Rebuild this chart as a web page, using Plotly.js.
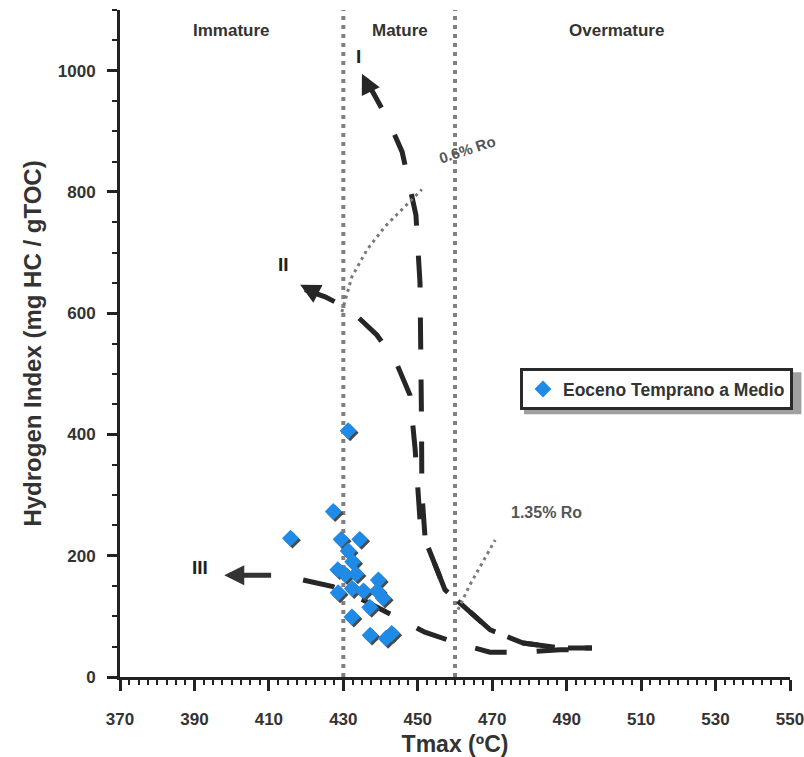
<!DOCTYPE html>
<html>
<head>
<meta charset="utf-8">
<script src="https://cdn.plot.ly/plotly-3.0.1.min.js"></script>
<style>
  html, body { margin: 0; padding: 0; background: #fff; }
  #chart { width: 804px; height: 757px; }
  .scatterlayer g.trace:last-of-type g.points { filter: drop-shadow(2px 2px 0px #4a4a4a); }
</style>
</head>
<body>
<div id="chart"></div>
<script>
// Kerogen type evolution curves
const typeI_x = [436.1, 442.0, 445.8, 449.5, 450.6, 450.9, 451.0, 451.1, 452.0, 457.3, 461.9, 469.4, 478.3, 488.2, 496.8];
const typeI_y = [985, 919, 866, 762, 650, 536, 424, 304, 226, 144, 119, 78, 56, 48, 48];
const typeII_x = [419.7, 425.1, 431.8, 439.0, 443.9, 447.9, 449.3, 450.6, 452.0, 457.3, 461.9, 469.4, 478.3, 488.2, 496.8];
const typeII_y = [639, 627, 606, 564, 523, 465, 375, 259, 226, 144, 119, 78, 56, 48, 48];
const typeIII_x = [419.2, 427.2, 435.3, 443.9, 451.9, 460.5, 469.4, 478.3, 488.2, 496.8];
const typeIII_y = [160, 149, 127, 99, 74, 56, 41, 41, 45, 45];

// Vitrinite reflectance isolines
const ro06_x = [429.6, 432.3, 436.4, 441.2, 451.1];
const ro06_y = [602, 660, 705, 743, 804];
const ro135_x = [460.8, 464.0, 470.8];
const ro135_y = [111, 152, 226];

// Maturity zone boundaries (Tmax)
const boundaries = [430, 460];
const zoneLabels = ['Immature', 'Mature', 'Overmature'];
const zoneLabelX = [400, 445.2, 503.5];

// Samples
const sampleTmax = [431.3, 427.3, 415.8, 429.4, 434.4, 431.3, 432.5, 428.5, 430.5, 433.4, 439.4, 428.6, 432.4, 435.4, 439.1, 440.7, 437.1, 432.3, 437.2, 441.5, 443.0];
const sampleHI   = [406, 273, 229, 227, 227, 208, 190, 177, 169, 170, 160, 139, 146, 142, 142, 130, 115, 99, 69, 64, 72];

const curveLine = {color: '#262626', width: 5, dash: '32px,30px'};

const traces = [
  {x: typeI_x, y: typeI_y, mode: 'lines', line: curveLine, showlegend: false, hoverinfo: 'skip'},
  {x: typeII_x, y: typeII_y, mode: 'lines', line: curveLine, showlegend: false, hoverinfo: 'skip'},
  {x: typeIII_x, y: typeIII_y, mode: 'lines', line: curveLine, showlegend: false, hoverinfo: 'skip'},
  {x: ro06_x, y: ro06_y, mode: 'lines', line: {color: '#7a7a7a', width: 3, dash: '3px,4px'}, showlegend: false, hoverinfo: 'skip'},
  {x: ro135_x, y: ro135_y, mode: 'lines', line: {color: '#7a7a7a', width: 3, dash: '3px,4px'}, showlegend: false, hoverinfo: 'skip'},
  {x: sampleTmax, y: sampleHI, mode: 'markers', name: 'Eoceno Temprano a Medio',
   marker: {symbol: 'diamond', size: 13, color: '#1f8be6', line: {width: 0}}}
];

const shapes = boundaries.map(b => ({
  type: 'line', xref: 'x', yref: 'paper', x0: b, x1: b, y0: 0, y1: 1,
  line: {color: '#808080', width: 4, dash: '4px,5px'}, layer: 'below'
}));
// legend shadow
shapes.push({type: 'rect', xref: 'paper', yref: 'paper', x0: 0.603, x1: 1.017, y0: 0.394, y1: 0.457,
  fillcolor: '#a0a0a0', line: {width: 0}, layer: 'below'});

const labelFont = {family: 'Arial, Liberation Sans, sans-serif', size: 17, color: '#333'};
const annotations = zoneLabels.map((t, i) => ({
  x: zoneLabelX[i], y: 1067, xref: 'x', yref: 'y', text: '<b>' + t + '</b>', showarrow: false, font: labelFont
}));
annotations.push(
  {x: 434.0, y: 1023, text: '<b>I</b>', showarrow: false, font: {family: 'Arial', size: 19, color: '#222'}},
  {x: 413.8, y: 680, text: '<b>II</b>', showarrow: false, font: {family: 'Arial', size: 19, color: '#222'}},
  {x: 391.5, y: 180, text: '<b>III</b>', showarrow: false, font: {family: 'Arial', size: 19, color: '#222'}},
  {x: 463.2, y: 870, text: '<b>0.6% Ro</b>', showarrow: false, textangle: -18, font: {family: 'Arial', size: 15, color: '#555'}},
  {x: 484.5, y: 271, text: '<b>1.35% Ro</b>', showarrow: false, font: {family: 'Arial', size: 16, color: '#555'}},
  // arrows
  {x: 398.0, y: 168, ax: 411.0, ay: 168, axref: 'x', ayref: 'y', text: '', showarrow: true,
   arrowhead: 2, arrowsize: 0.8, arrowwidth: 5, arrowcolor: '#333', standoff: 0},
  {x: 418.4, y: 647, ax: 422.5, ay: 634, axref: 'x', ayref: 'y', text: '', showarrow: true,
   arrowhead: 2, arrowsize: 0.8, arrowwidth: 5, arrowcolor: '#262626', standoff: 0},
  {x: 435.0, y: 995, ax: 436.6, ay: 975, axref: 'x', ayref: 'y', text: '', showarrow: true,
   arrowhead: 2, arrowsize: 0.8, arrowwidth: 5, arrowcolor: '#262626', standoff: 0}
);

const tickFont = {family: 'Arial, Liberation Sans, sans-serif', size: 17, color: '#333', weight: 'bold'};

const layout = {
  width: 804, height: 757,
  margin: {l: 120, r: 14, t: 10, b: 80, autoexpand: false},
  paper_bgcolor: '#fff', plot_bgcolor: '#fff',
  showlegend: true,
  legend: {x: 0.597, y: 0.463, xanchor: 'left', yanchor: 'top', bgcolor: '#fff',
    bordercolor: '#2a2a2a', borderwidth: 3, itemwidth: 30,
    font: {family: 'Arial, Liberation Sans, sans-serif', size: 17.5, color: '#333', weight: 'bold'}},
  xaxis: {range: [370, 550], dtick: 20, tick0: 370, showgrid: false, zeroline: false,
    showline: true, linewidth: 3, linecolor: '#222', ticks: 'outside', ticklen: 11, tickwidth: 3, tickcolor: '#222',
    minor: {dtick: 2.5, ticks: 'outside', ticklen: 5, tickwidth: 2, tickcolor: '#222'},
    tickfont: tickFont, ticklabelstandoff: 14, ticklabeloverflow: 'allow',
    title: {text: '<b>Tmax (ºC)</b>', font: {family: 'Arial, Liberation Sans, sans-serif', size: 23, color: '#333'}, standoff: 10}},
  yaxis: {range: [0, 1100], dtick: 200, showgrid: false, zeroline: false,
    showline: true, linewidth: 3, linecolor: '#222', ticks: 'outside', ticklen: 10, tickwidth: 3, tickcolor: '#222',
    minor: {dtick: 50, ticks: 'outside', ticklen: 5, tickwidth: 2, tickcolor: '#222'},
    tickfont: tickFont, ticklabelstandoff: 8,
    title: {text: '<b>Hydrogen Index (mg HC / gTOC)</b>', font: {family: 'Arial, Liberation Sans, sans-serif', size: 24, color: '#333'}, standoff: 10}},
  shapes: shapes,
  annotations: annotations
};

Plotly.newPlot('chart', traces, layout, {displayModeBar: false, staticPlot: true});
</script>
</body>
</html>
